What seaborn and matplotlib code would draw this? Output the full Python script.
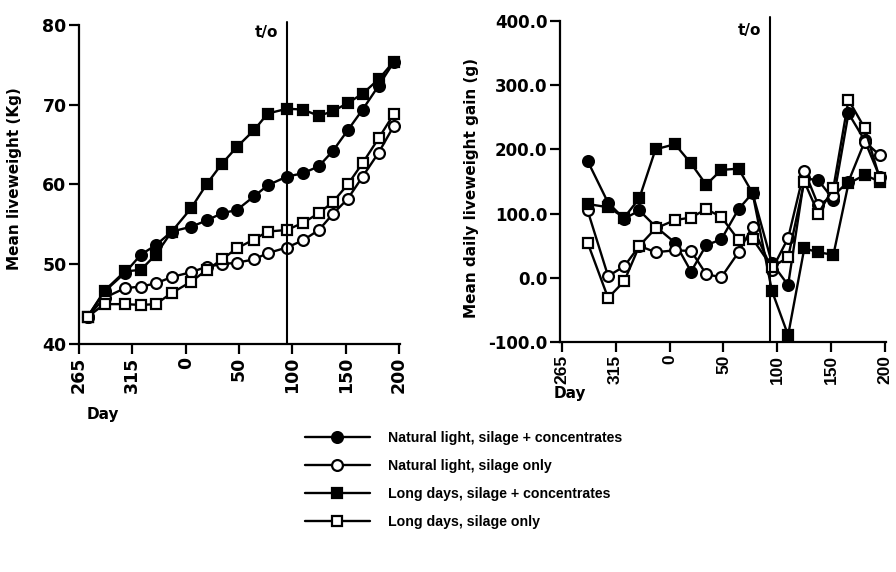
import matplotlib
matplotlib.use("Agg")
import matplotlib.pyplot as plt
from matplotlib.lines import Line2D
import numpy as np
import pandas as pd
import seaborn as sns

# Weighing dates (day of year), from late September through to mid July
weigh_days = [273, 289, 308, 323, 337, 352, 5, 20, 34, 48,
              64, 77, 95, 110, 125, 138, 152, 166, 181, 195]
turnout_day = 95

# Axis ticks (day of year)
tick_days = [265, 315, 0, 50, 100, 150, 200]
tick_labels = ["265", "315", "0", "50", "100", "150", "200"]

series_names = [
    "Natural light, silage + concentrates",
    "Natural light, silage only",
    "Long days, silage + concentrates",
    "Long days, silage only",
]

# Mean liveweight (kg)
nl_sc_wt = [43.4, 46.6, 48.9, 51.2, 52.4, 54.1, 54.7, 55.5, 56.4, 56.8,
            58.5, 59.9, 61.0, 61.4, 62.3, 64.2, 66.8, 69.4, 72.4, 75.3]
nl_s_wt = [43.4, 45.8, 47.0, 47.2, 47.6, 48.4, 49.0, 49.7, 50.0, 50.2,
           50.6, 51.4, 52.1, 53.0, 54.3, 56.3, 58.2, 61.0, 64.0, 67.3]
ld_sc_wt = [43.4, 46.7, 49.1, 49.3, 51.2, 54.1, 57.0, 60.1, 62.6, 64.7,
            66.8, 68.9, 69.5, 69.4, 68.6, 69.2, 70.2, 71.4, 73.2, 75.4]
ld_s_wt = [43.4, 45.0, 45.0, 44.9, 45.0, 46.4, 47.8, 49.3, 50.6, 52.0,
           53.1, 54.1, 54.3, 55.2, 56.4, 57.8, 60.0, 62.7, 65.8, 68.8]

# Mean daily liveweight gain (g), one value per interval ending at each weighing
nl_sc_gain = [182, 117, 92, 105, 80, 55, 10, 51, 60, 107,
              132, 23, -11, 155, 152, 122, 256, 214, 157]
nl_s_gain = [105, 3, 18, 50, 40, 43, 42, 6, 1, 40,
             80, 13, 62, 167, 113, 128, 150, 212, 191]
ld_sc_gain = [115, 110, 94, 124, 200, 208, 178, 145, 168, 170,
              132, -20, -89, 46, 40, 36, 147, 160, 150]
ld_s_gain = [55, -31, -5, 50, 77, 90, 94, 107, 95, 59,
             61, 17, 32, 150, 100, 140, 277, 233, 155]


def season_pos(day):
    """Days elapsed since day 265 of the first year."""
    return (np.asarray(day) - 265) % 365


x_wt = season_pos(weigh_days)
x_gain = season_pos(weigh_days[1:])

weights = [nl_sc_wt, nl_s_wt, ld_sc_wt, ld_s_wt]
gains = [nl_sc_gain, nl_s_gain, ld_sc_gain, ld_s_gain]
marker_shapes = ["o", "o", "s", "s"]
face_colours = ["black", "white", "black", "white"]

sns.set_theme(style="ticks")
plt.rcParams["font.family"] = ["DejaVu Sans"]
plt.rcParams["text.color"] = "black"
plt.rcParams["axes.labelcolor"] = "black"
plt.rcParams["xtick.color"] = "black"
plt.rcParams["ytick.color"] = "black"

fig = plt.figure(figsize=(8.96, 5.72), dpi=100)
ax1 = fig.add_axes([79 / 896, 1 - 344 / 572, 321 / 896, 319 / 572])
ax2 = fig.add_axes([560 / 896, 1 - 342.3 / 572, 326 / 896, 321.6 / 572])


def draw_panel(ax, x, values_list):
    for name, vals, mk, fc in zip(series_names, values_list, marker_shapes, face_colours):
        df = pd.DataFrame({"pos": x, "value": vals})
        sns.lineplot(data=df, x="pos", y="value", ax=ax, color="black",
                     linewidth=1.7, marker=mk, markersize=7.8,
                     markerfacecolor=fc, markeredgecolor="black",
                     markeredgewidth=1.6, errorbar=None, sort=False,
                     label=name, legend=False)


draw_panel(ax1, x_wt, weights)
draw_panel(ax2, x_gain, gains)

tick_pos = season_pos(tick_days)

# Liveweight panel
ax1.set_xlim(0, 301)
ax1.set_ylim(40, 80)
ax1.set_yticks([40, 50, 60, 70, 80])
ax1.set_yticklabels(["40", "50", "60", "70", "80"], fontsize=12.5, fontweight="bold")
ax1.set_xticks(tick_pos)
ax1.set_xticklabels(tick_labels, rotation=90, fontsize=12.5, fontweight="bold")
ax1.axvline(season_pos(turnout_day), color="black", linewidth=1.5, ymax=1.01, clip_on=False)
ax1.text(season_pos(turnout_day) - 8, 79.0, "t/o", ha="right", va="center",
         fontsize=11, fontweight="bold", color="black")
ax1.set_ylabel("Mean liveweight (Kg)", fontsize=11, fontweight="bold", color="black")
ax1.yaxis.set_label_coords(-0.178, 0.517)
ax1.set_xlabel("")
ax1.text(0.075, -0.222, "Day", transform=ax1.transAxes, ha="center", va="center",
         fontsize=11, fontweight="bold", color="black")

# Daily gain panel
ax2.set_xlim(-1.6, 300.8)
ax2.set_ylim(-100, 400)
gain_ticks = [-100, 0, 100, 200, 300, 400]
ax2.set_yticks(gain_ticks)
ax2.set_yticklabels([f"{t:.1f}" for t in gain_ticks], fontsize=12, fontweight="bold")
ax2.set_xticks(tick_pos)
ax2.set_xticklabels(tick_labels, rotation=90, fontsize=12.5, fontweight="bold",
                    family="Liberation Sans")
ax2.axvline(season_pos(turnout_day) - 2, color="black", linewidth=1.5, ymax=1.01, clip_on=False)
ax2.text(season_pos(turnout_day) - 10, 384, "t/o", ha="right", va="center",
         fontsize=11, fontweight="bold", color="black")
ax2.set_ylabel("Mean daily liveweight gain (g)", fontsize=11, fontweight="bold", color="black")
ax2.yaxis.set_label_coords(-0.248, 0.481)
ax2.set_xlabel("")
ax2.text(0.03, -0.158, "Day", transform=ax2.transAxes, ha="center", va="center",
         fontsize=11, fontweight="bold", color="black")

for ax in (ax1, ax2):
    sns.despine(ax=ax)
    for side in ("left", "bottom"):
        ax.spines[side].set_linewidth(1.6)
        ax.spines[side].set_color("black")
    ax.tick_params(axis="both", direction="out", length=7, width=1.6,
                   color="black", labelcolor="black", pad=2)
    ax.set_facecolor("white")

# Shared legend below the panels
handles = [Line2D([], [], color="black", linewidth=1.7, marker=mk, markersize=7.8,
                  markerfacecolor=fc, markeredgecolor="black", markeredgewidth=1.6)
           for mk, fc in zip(marker_shapes, face_colours)]
leg = fig.legend(handles, series_names, loc="upper left", bbox_to_anchor=(292 / 896, 1 - 418 / 572),
                 frameon=False, handlelength=4.6, handletextpad=1.25, labelspacing=1.0,
                 prop={"family": "Liberation Sans", "weight": "bold", "size": 10.2})
for txt in leg.get_texts():
    txt.set_color("black")

fig.savefig("out.png", dpi=100, facecolor="white")
